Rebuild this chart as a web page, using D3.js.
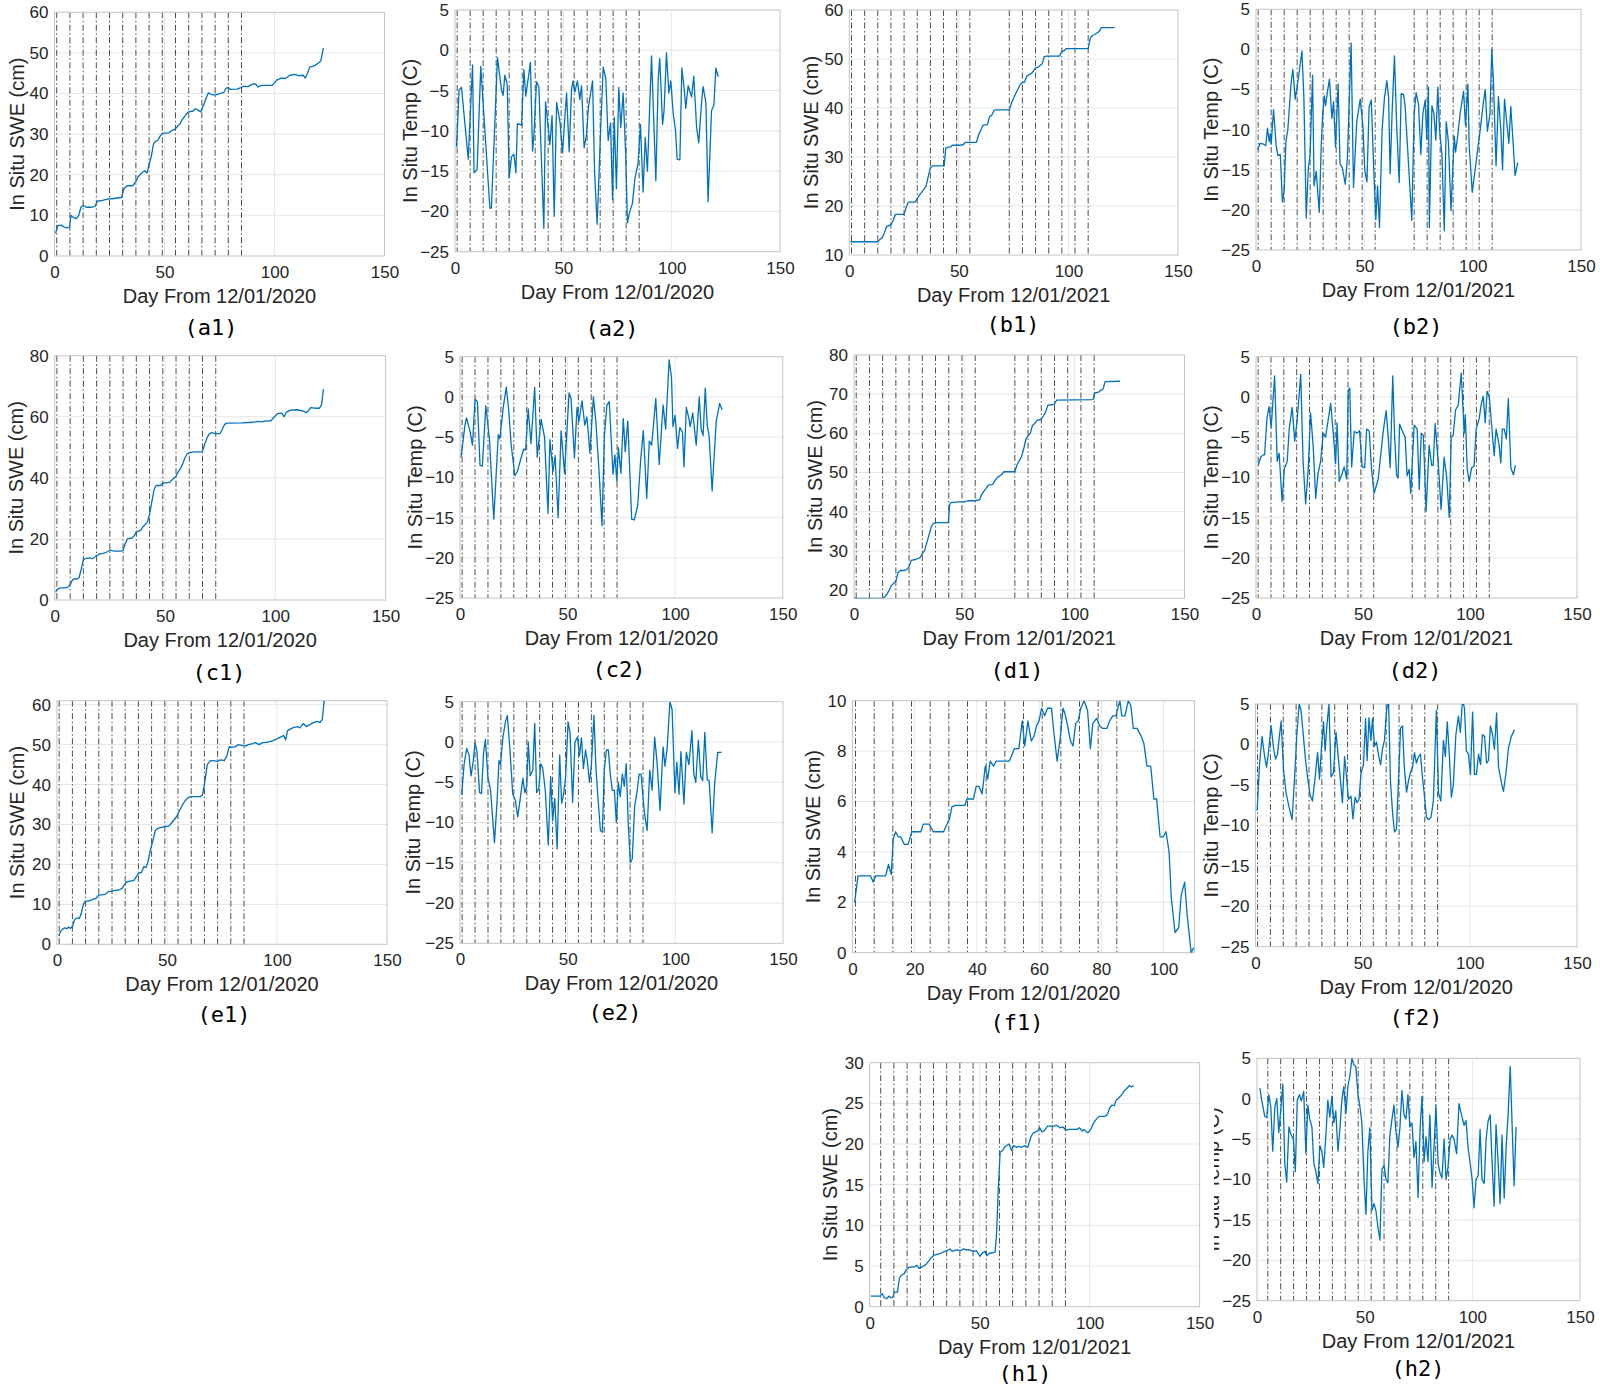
<!DOCTYPE html>
<html><head><meta charset="utf-8">
<script src="https://cdn.jsdelivr.net/npm/d3@7/dist/d3.min.js"></script>
<style>html,body{margin:0;padding:0;background:#fff}svg{display:block}</style>
</head><body>
<svg id="chart" width="1600" height="1386"></svg>
<script>
// ---------------- DATA ----------------
// Satellite pass days (vertical dash-dot lines)
const passes2020 = [1,7,13,19,25,31,37,43,49,55,61,67,73,79,85];
const passes2020c = [1,7,13,19,25,31,37,43,49,55,61,67,73];
const passes2021 = [1,7,13,19,25,31,37,43,49,55,73,79,85,91,97,103,109];
const passes2021h = [5,11,17,23,29,35,41,47,53,59,65,71,77,83,89];

// Tick labels
const dayTicks = [0,50,100,150];
const dayTicksF = [0,20,40,60,80,100];
const tempTicks = [-25,-20,-15,-10,-5,0,5];
const sweTicksA = [0,10,20,30,40,50,60];
const sweTicksB = [10,20,30,40,50,60];
const sweTicksC = [0,20,40,60,80];
const sweTicksD = [20,30,40,50,60,70,80];
const sweTicksF = [0,2,4,6,8,10];
const sweTicksH = [0,5,10,15,20,25,30];

// Series: [day, value]
const sweA1 = [[0.5,5.6],[1.5,7.5],[3,7.6],[4.5,7.1],[6,6.9],[6.8,7.2],[7.5,10],[8.5,9.5],[10,9.2],[11,10],[12,12],[13,12.5],[14.5,12],[17,12],[18.5,12.3],[19.5,13.5],[21,13.6],[24,14],[26,14.1],[30.5,14.4],[31.5,16.5],[33,17.3],[35.5,17.3],[37,18.3],[38,19.5],[40,20.6],[41,21],[42,20.4],[43,22.5],[44,24.5],[45,27.6],[46,28.3],[47,28.5],[48,29.5],[49,30.2],[52,30.3],[53,30.8],[55,31.3],[56,32],[57,32.5],[58,33.5],[60,35],[61,35.5],[63,35.7],[64,36.3],[65.5,35.8],[66.5,35.5],[68,37.5],[69,39],[70,40.2],[71,39.8],[73,39.6],[75,40],[77,40.3],[78,41.3],[79,41.5],[80,41],[83,41.1],[85,41.5],[86,41.8],[88,41.7],[89,42],[90,42.3],[91.5,42.4],[92.5,41.6],[94,42],[99,42],[101,43.3],[103,43.8],[105,43.7],[107,44.5],[109,44.7],[111,44.4],[113,44.5],[114,43.8],[115,45],[116,46.5],[118,46.8],[120,47.5],[121,48],[122.2,51.2]];
const tempA2 = [[0.7,-12],[1.9,-4.9],[3,-4.6],[6.1,-13.5],[8.1,-1.8],[8.8,-15.2],[10.2,-14.8],[11.9,-2],[13.8,-10],[16.1,-19.6],[16.8,-19.6],[19.6,-0.9],[21.5,-5],[22.2,-5.6],[23,-3.1],[24.1,-4.2],[25,-15.8],[26.1,-13.2],[27.2,-12.9],[28.1,-15.2],[28.8,-9.1],[30.7,-9.3],[31.8,-2.4],[32.7,-5.7],[34.8,-1.5],[35.8,-12.5],[36.5,-10.3],[37.6,-3.9],[38.7,-4.5],[41,-22.1],[41.8,-6.4],[43.8,-11.7],[44.8,-8.1],[45.8,-20.6],[46.9,-6.5],[48.5,-9],[49.6,-12.7],[51.5,-5.3],[52.7,-12.6],[53.8,-4.8],[54.5,-3.8],[55.3,-5.2],[56.5,-3.8],[57.6,-6.1],[58.4,-4.4],[59.6,-12.1],[60.7,-10.5],[61.6,-7],[63.5,-3.8],[64.4,-15],[65.6,-21.6],[67.2,-10],[68.4,-2.1],[69.6,-3.5],[70.7,-11.2],[71.8,-9],[72.7,-18.5],[73.5,-8.3],[74.5,-17.2],[75.6,-4.6],[76.5,-9.6],[77.6,-5.3],[78.8,-13],[79.6,-21.4],[80.7,-20],[81.9,-19],[83,-16],[84.5,-14],[85.6,-9.2],[86.8,-17.6],[87.8,-10.8],[88.8,-15],[90.7,-0.7],[92.7,-16.2],[93.8,-3.5],[94.5,-1],[95.8,-9.2],[96.5,-7.5],[97.6,-0.3],[98.7,-5.3],[99.6,-3.8],[100.7,-7.8],[101.8,-10],[102.5,-13.5],[103.8,-13.6],[104.7,-2.2],[105.8,-4.8],[106.5,-7.2],[107.6,-4.4],[109.2,-5.8],[110.2,-3.2],[111.5,-9.5],[112.5,-11.5],[113.8,-6.5],[114.5,-4.5],[115.8,-6.5],[116.8,-18.8],[118.4,-7.5],[119.5,-6.8],[120.4,-2.2],[121.5,-3.3]];
const sweB1 = [[0.5,12.7],[13,12.7],[14,13.2],[15,13.5],[16,14.5],[17,15.8],[18,16],[19,16.2],[20,17],[21,18.3],[25,18.3],[26,19.8],[27,20.8],[30,20.8],[31,21.5],[32,22.2],[33,22.8],[35,24],[36,26],[37,27.8],[38,28.2],[43.3,28.2],[44,31.8],[45,32],[46,32],[47,32.4],[50,32.4],[52,32.5],[53,33],[58,33],[59,34.5],[61,36.5],[63,36.6],[64,38.2],[65,38.5],[66,39.5],[67,39.6],[73,39.6],[74,41],[75,42],[76,43],[78,44.8],[79,45.2],[80,45.3],[81,46.5],[82,46.8],[83,47],[84,47.5],[85,48.2],[86,48.3],[88,49],[89,50.5],[90,50.6],[96,50.6],[97,51.5],[98,51.7],[99,52.1],[109,52.1],[110,54.3],[111,54.8],[112,55],[113,55.3],[114,55.6],[115,56.4],[121,56.4]];
const tempB2 = [[0.8,-12.5],[1.9,-11.7],[3.5,-11.8],[4.5,-12],[5.3,-9.8],[6.1,-11.5],[6.6,-10.5],[7,-11.8],[8.1,-7.5],[9.3,-12],[10.1,-13.2],[11.2,-13.1],[12.2,-19],[13,-17.5],[13.8,-11.5],[14.7,-10],[16.1,-4.5],[17,-2.5],[18.1,-6.2],[18.8,-5],[20.1,-2.5],[21.2,-0.2],[22.1,-6],[23.2,-21],[24.1,-15],[25,-13],[26.1,-3.2],[26.8,-17],[27.8,-15.2],[29.2,-20.3],[30.1,-12],[30.8,-8],[31.5,-5.8],[32.1,-7],[33,-5.2],[33.9,-3.7],[35,-8.6],[35.8,-6.5],[36.7,-12.2],[37.9,-4.3],[38.8,-14.3],[39.8,-14.7],[41.2,-16.8],[42.2,-13.5],[43.9,0.8],[45,-17.2],[46.5,-9],[48.1,-6.2],[49.3,-9.5],[50.2,-15],[51.2,-16.5],[52.2,-7.2],[53.2,-6.3],[54.2,-14],[55.3,-21.2],[56.1,-17],[57,-22.2],[58.2,-10],[59.3,-6],[60.4,-3.9],[61.2,-6],[61.9,-15.5],[62.8,-8],[63.9,-0.8],[65,-10],[66.1,-16.6],[67,-5.5],[68.1,-5.6],[68.8,-7],[69.9,-12],[71.9,-21.3],[73,-8],[73.9,-5.4],[75,-6.8],[76.1,-13.1],[77,-8],[78.1,-6.3],[78.8,-11.2],[79.6,-4.7],[80,-22.2],[81.2,-7],[82.1,-8],[83,-11.3],[83.9,-4.7],[84.7,-10],[85.8,-13],[86.9,-22.6],[87.8,-9],[88.8,-11.5],[90,-20.1],[91.5,-10.8],[92.1,-12.8],[93,-11],[94.2,-8],[95.8,-5.2],[96.7,-9.5],[97.8,-4.3],[98.4,-12],[99.8,-17.8],[101.6,-14],[103.5,-10],[105,-6.5],[105.8,-5],[106.8,-10.2],[108,-8],[108.8,0],[109.6,-4],[110.8,-14.5],[111.9,-5.9],[113,-10],[113.8,-15],[114.7,-6.2],[115.8,-9.3],[116.7,-11.7],[117.6,-7.1],[119.6,-15.7],[120.8,-14.1]];
const sweC1 = [[0.5,2.5],[1,3.5],[2,3.8],[3,4],[5,4],[6,4.2],[7,5],[8,6.5],[9,7],[10,6.8],[11,7.2],[12,10],[13,13.2],[14,13.6],[16,13.8],[17,13.5],[18,14],[19,14.5],[20,15],[22,15.3],[24,15.8],[25,16.3],[27,16],[30,16],[31,16.2],[32,18.5],[33,20],[35,20.3],[36,21],[37,22.3],[39,22.8],[40,24],[42,25.5],[43,28],[44,32],[45,36],[46,37.5],[48,37.5],[49,38.3],[52,38.5],[53,39.2],[55,40.5],[56,42],[57,43],[58,44.5],[59,46.5],[60,47.8],[61,48.2],[63,48.5],[66,48.5],[67,48.6],[68,51],[69,53],[70,54.3],[71,54.8],[73,54.5],[75,54.5],[76,56],[77,57.5],[78,57.9],[85,58],[90,58.2],[92,58.5],[94,58.3],[95,58.6],[98,58.7],[99,59.5],[100,60.3],[101,61],[103,61.2],[104,60],[105,61.5],[107,62.2],[110,62.3],[113,61.8],[114,61.3],[115,62],[116,63],[118,62.8],[120,62.8],[121,64],[121.8,69]];
const tempC2 = [[0.5,-7.5],[2.3,-3.5],[3,-2.6],[4.6,-4.2],[5.8,-6],[7,-0.3],[8.1,-0.6],[9.3,-8.5],[10.4,-8.6],[12,-1.1],[13.7,-5.3],[15.7,-15.2],[17.8,-4.7],[18.5,-5.2],[20.1,-1.3],[21.5,1.2],[22.6,-1.5],[23.8,-6],[25.5,-9.8],[26.6,-9.3],[28.5,-7.5],[29.6,-6.5],[30.5,-6.6],[31.7,-1.5],[33,-5.8],[34.7,1.2],[35.9,-7.5],[37.7,-2.8],[39.3,-5],[40.9,-14.5],[41.8,-5.3],[43.2,-9.3],[44.2,-7.3],[45.6,-15],[47,-4.2],[48.6,-9.5],[50.7,0.5],[51.6,-0.2],[53.2,-7.6],[54.4,-1.3],[55.3,-3],[56.7,-0.5],[58,-3.5],[59,-2.5],[60.4,-7],[62,0],[63.2,-3.2],[64.8,-10],[66,-16],[67.1,-5],[68.3,-1],[69.4,-0.6],[71.1,-9.6],[72,-7.2],[72.9,-10.5],[73.6,-6.3],[74.8,-9.5],[75.9,-2.7],[76.8,-6.8],[78,-3],[79.8,-15.2],[81,-15.3],[82.6,-13.5],[84,-7.8],[85.2,-4.2],[86.8,-12.6],[88,-5.5],[89.1,-6],[91,-0.2],[92.6,-8.4],[94.4,-1],[95.6,-4],[97.2,4.6],[98.3,2.5],[99,-3.7],[100,-2.3],[101.1,-6.4],[102.2,-3.8],[103.4,-4.4],[104.1,-8.7],[105.2,-1.3],[106.4,-2.7],[107,-3.7],[108.2,-2],[109.8,-6],[111.2,0],[112.1,-4],[113,-4.8],[114,1.1],[114.9,-3.5],[115.8,-4.8],[117.2,-11.7],[119.1,-3],[120.7,-0.8],[121.8,-1.6]];
const sweD1 = [[0,17.9],[13,17.9],[14,18.3],[15,19],[16,20],[17,21.2],[18,21.7],[19,22.3],[20,24.5],[21,25],[23,25],[24,25.3],[25,26],[26,27.6],[28,27.8],[30,28.3],[31,29.3],[32,30],[33,32],[34,34],[35,36],[36,37],[38,37.2],[42.8,37.2],[43.4,41.8],[44,42.3],[47,42.5],[50,42.5],[52,42.8],[55,42.8],[57,43],[58,44.5],[60,46],[61,46.8],[63,47],[64,48],[65,48.7],[67,49.5],[68,50.2],[73,50.2],[74,52],[76,54],[77,56],[78,58.5],[79,59.3],[80,60],[81,62],[82,62.5],[83,63.3],[85,63.6],[86,64.5],[87,65.5],[88,67.2],[90,67.3],[91,67.5],[92,68.5],[108.5,68.6],[109.3,70.3],[111,70.5],[112,71],[113,71.3],[114,73.2],[120.7,73.3]];
const tempD2 = [[1,-8.5],[2.2,-7.5],[3.3,-7.2],[4,-7.2],[5.2,-2.5],[6.1,-1.2],[7.1,-3.8],[8.7,2.6],[9.9,-8],[10.8,-7],[12.2,-13],[13.2,-9],[14.6,-8],[15.5,-4],[16.9,-1.3],[18.1,-5.5],[19.2,-3],[20.9,2.8],[22,-8],[23.2,-13.3],[24.4,-9],[25.5,-2],[26.7,-6],[27.9,-12.6],[29,-9.5],[30.2,-8],[31.4,-4.5],[32.5,-5],[34.9,-0.8],[36.1,-4.5],[37.2,-8.3],[37.9,-3.2],[38.9,-10.5],[40.3,-9.5],[41.2,-8.7],[42.4,-10.2],[43.1,0.8],[43.8,1.1],[44.7,-8.7],[45.9,-4.3],[47.3,-4.5],[48.4,-4.2],[49.6,-8.7],[50.8,-8.8],[51.7,-4],[52.9,-4.2],[54,-9],[55.2,-12],[57.1,-10.2],[59.4,-4.4],[60.8,-1.7],[61.8,-5],[62.7,-8.8],[63.9,2.6],[64.8,-5],[65.7,-9.7],[66.4,-10.1],[67.1,-3.4],[68.8,-4.5],[69.7,-5],[70.6,-9.8],[71.6,-9],[72.3,-12],[73.9,-3.5],[75.3,-4],[76.3,-11.5],[77.2,-4.5],[78.2,-4.8],[79.5,-14.2],[80.9,-6],[82.1,-8.5],[82.8,-8.5],[83.7,-3.3],[85.1,-8],[86.5,-14],[87.9,-7.5],[89.1,-10],[90.3,-15],[91.2,-5],[92.1,-4.8],[93.3,-1.6],[94.5,-1],[95.9,3],[97.3,-4.5],[97.8,-2.2],[98.7,-9],[99.6,-10.5],[100.8,-8.8],[101.9,-8.6],[102.9,-4],[104.3,-2.7],[105.2,-1],[106.2,0.1],[107.1,-3.2],[108,0.7],[109,0.1],[110.1,-3.5],[111.3,-7.3],[112.2,-4],[113.6,-6],[114.4,-8.2],[115.1,-4],[116,-4],[117,-5.2],[117.9,-0.2],[119.1,-8.8],[120.3,-9.7],[121.2,-8.5]];
const sweE1 = [[0.8,2],[1.7,3.3],[2.6,3.8],[3.5,4.1],[4.4,3.9],[5.3,4.3],[6.2,4],[7.1,4.6],[8,6.2],[9.1,6.6],[10.2,6.5],[10.9,7.5],[12,10],[12.9,10.8],[14.3,10.8],[15.2,11],[16.5,11.3],[17.7,11.5],[18.8,12.3],[20.4,12.4],[21.9,12.5],[23.3,13.2],[24.9,13.3],[26.4,13.5],[28.2,13.6],[29.6,14],[30.5,14.8],[31.6,15.6],[33.2,15.8],[35,16],[36.1,17],[37.2,17.8],[38.4,18],[39.5,19.5],[40.4,19.2],[41.3,20.5],[42.4,23.5],[43.6,26],[44.7,28.5],[45.8,29],[47.4,29.3],[49,29.5],[50.8,29.6],[51.9,30.3],[53,31],[54.4,32],[55.7,33.5],[57.1,35],[58.6,36.2],[59.8,36.8],[60.9,37],[63.1,37],[64.9,37],[66.1,37.3],[67,40],[68.3,45],[69.7,46],[71,46],[72.8,45.8],[74.4,46.2],[76,46],[77.1,47],[78.3,49.5],[79.6,49.3],[81.2,49.5],[82.3,50],[84.1,49.8],[85.7,49.6],[86.8,50],[88.6,50.2],[90.2,50.5],[91.8,50],[93.6,50.5],[95.8,50.6],[98.1,51],[100.3,51.5],[102.1,52],[103,52.3],[103.9,51.2],[104.8,53.5],[107.1,54.2],[109.3,54.5],[110.4,54.2],[112,55.3],[113.3,54.5],[114.9,55],[116.5,55.5],[118.3,55.8],[119.6,55.6],[120.6,56.3],[121.5,61.5]];
const tempE2 = [[0.8,-6.5],[1.9,-2.8],[3.1,-0.8],[4.2,-1.6],[5.1,-4.2],[6.1,-2.5],[7,-0.1],[7.9,-1.2],[9.1,-6.3],[10,-6.4],[10.9,-1.5],[11.8,0.3],[13,-4.5],[14.2,-6],[16,-12.5],[17.2,-7.5],[18.1,-2.3],[18.8,-2.8],[19.9,0.5],[21.1,2.5],[22,3.3],[23.2,-1],[24.5,-6.5],[25.7,-7.2],[26.8,-9.3],[28,-7],[29.2,-4.5],[30.1,-6.3],[31,-5.5],[31.7,0],[32.6,-4.2],[33.8,-3.5],[34.7,2.3],[35.6,-6.3],[36.6,-5.8],[37.5,-2.7],[38.4,-3.2],[39.6,-6],[41,-12.8],[42.1,-4.3],[43,-9.8],[44,-7],[45.1,-13.3],[46.3,-1.6],[47.2,-7.6],[48.1,-6.5],[49,-4.5],[50.2,2.5],[51.1,1.2],[52.3,-7.5],[53.4,0],[54.6,0.6],[55.5,-1.7],[56.4,0.5],[57.3,-3.3],[58.3,-1],[59.2,-2.5],[60.1,-5],[61,-3],[62.2,3.3],[63.1,-3],[64,-6.7],[65.2,-11],[66.1,-11.2],[67,-3.5],[68,-1],[68.9,-1],[69.8,-4],[70.7,-6],[71.7,-6],[72.6,-10],[73.5,-5],[74.4,-6.8],[75.4,-4],[76.3,-5.5],[77.2,-2.7],[78.1,-10],[79.1,-15],[80,-14.5],[81.1,-8],[82.3,-6],[83.2,-4],[84.1,-4],[85.5,-8.5],[86.9,-11],[88.1,-3.5],[89.2,-6],[90.4,0.6],[91.5,-2.5],[92.9,-8.5],[94.3,-0.6],[95.2,-3],[96.2,-0.8],[97.5,5],[98.5,4],[99.8,-6.3],[100.7,-2.5],[101.7,-6.5],[102.6,-1.2],[104,-7.7],[105.1,-1.3],[106.3,-2.8],[107.7,1.4],[108.6,-4],[109.5,-5],[110.7,0.2],[111.8,-4.3],[112.7,-4.8],[113.7,1.2],[114.8,-4.7],[115.7,-4.8],[117.1,-11.3],[118.3,-5],[119.7,-1.3],[121.5,-1.3]];
const sweF1 = [[0.7,2],[1.8,3.05],[2.6,3.05],[4.2,3.05],[5.8,3.05],[6.7,2.8],[7.5,3.05],[9.1,3.05],[10.7,3.05],[11.6,3.5],[12.5,3.1],[13.1,4.5],[13.9,4.8],[14.7,4.6],[15.5,4.6],[16.7,4.3],[17.9,4.3],[19.1,4.8],[20.4,4.8],[22,4.8],[22.8,5.1],[23.9,5.1],[24.7,5.1],[26,4.8],[27.2,4.8],[28.5,4.8],[29.3,4.8],[30.4,5.1],[31.2,5.3],[32,5.8],[33.3,5.85],[34.9,5.85],[36.2,5.85],[36.8,6.1],[38.1,6.1],[38.9,6.1],[39.8,6.6],[40.7,6.6],[41.7,6.3],[42.7,7.4],[43.5,6.9],[44.3,7.6],[45.4,7.4],[46.2,7.6],[47.9,7.6],[49.5,7.6],[50.4,7.6],[51.1,7.8],[52.1,8.1],[53.5,8.1],[54.6,9.2],[55.4,8.2],[56.4,9.2],[57.5,8.4],[58.4,8.6],[59.2,9],[60,9.2],[60.8,9.7],[61.8,9.4],[62.7,9.7],[64,9.7],[64.8,8.7],[65.8,7.6],[66.8,8.5],[67.7,9.7],[68.3,9.5],[69.2,9],[70.1,8.4],[70.9,8.2],[71.8,9.1],[72.6,9.2],[73.4,9.7],[74.5,10],[75.6,9.6],[76.5,8.1],[77.3,9.1],[78.5,9.3],[79.5,9],[80.5,8.9],[81.8,8.9],[82.7,9.2],[83.7,9.4],[84.7,9.4],[85.3,9.7],[86,10],[86.6,9.4],[87.6,9.4],[88.7,10],[89.5,9.8],[90.3,8.9],[91.5,8.9],[92.8,8.6],[93.7,8.3],[94.7,7.4],[95.9,7.4],[96.9,6.1],[97.8,6.1],[98.9,4.6],[99.9,4.6],[100.8,4.8],[101.8,4],[102.5,2.2],[103.7,0.8],[104.9,1],[105.7,2.3],[106.8,2.8],[107.6,1.5],[108.9,0],[109.7,0.2]];
const tempF2 = [[0.8,-8.2],[1.9,-2.5],[3.1,1],[4.3,-1.5],[5.2,-2.8],[6.1,-1],[7.3,2.3],[8.5,-0.5],[9.4,-1.8],[10.3,-1.2],[12,2.9],[13.1,-3],[14.3,-6],[15.5,-7.5],[17.1,-9.3],[18.3,-4],[19.4,1.5],[20.4,5],[21.3,4.2],[22.4,1],[23.4,-2],[24.3,-4],[25.5,-6.2],[26.6,-7],[27.8,-4.2],[29,-1],[29.9,-4.3],[30.8,-0.5],[31.8,2.8],[32.5,-0.8],[33.4,2.5],[34.3,5],[35.3,-4],[36.4,-3.5],[37.6,1.5],[38.8,-2],[39.7,-4.5],[40.6,-7.2],[41.6,-1.5],[42.5,-4],[43.4,-6.8],[44.6,-6.4],[45.5,-9.2],[46.5,-6.5],[47.4,-7.2],[48.3,-6.8],[49.3,-3.5],[50.4,-2.5],[51.4,3.2],[52.1,-2],[53,3.3],[53.9,0.5],[54.6,3.2],[55.6,-0.2],[56.5,0.3],[57.4,-1.3],[58.4,-2.5],[59.3,-0.5],[60.2,0.5],[61.2,4.2],[62.1,5.5],[63,-4.6],[64,-8.5],[64.9,-10.8],[65.8,-10.5],[66.8,-4],[67.7,2],[68.6,2.3],[69.5,-3],[70.5,-5.9],[71.4,-4.5],[72.3,-3.5],[73.3,-2.8],[74.2,-1],[75.1,-2.3],[76.1,-1.5],[77,-1.2],[77.9,-4],[78.9,-6.5],[79.8,-9],[80.7,-9.3],[81.9,-9],[83,-7],[84.4,4.2],[85.4,-6],[86.5,-7],[87.7,0.5],[88.6,-1.5],[89.5,2.8],[90.5,-1.5],[91.4,-6.5],[92.3,-5],[93.5,1.2],[94.7,3.5],[95.6,1.5],[96.6,5.5],[97.5,4.5],[98.4,-0.8],[99.4,-1.2],[100.3,-3.7],[101.3,4],[102.2,-3.7],[103.1,-3.7],[104.1,-1.2],[105,-2.5],[105.9,1.2],[106.9,1],[107.8,-2.3],[108.7,-2],[109.6,2.3],[110.6,1.2],[111.5,-0.6],[112.5,3.9],[113.4,-2.8],[114.8,-4.8],[115.7,-5.8],[116.9,-3.5],[118,-0.5],[119.4,1],[120.8,1.8]];
const sweH1 = [[0.5,1.3],[2.7,1.3],[4.6,1.3],[5.7,1.6],[6.6,1.1],[7.8,1],[8.7,1.3],[9.6,1.1],[10.5,1.2],[11.4,1.8],[12.6,1.8],[13.5,3.5],[14.6,3.9],[15.8,4.1],[16.5,4.5],[17.6,4.8],[19.2,4.9],[20.6,4.9],[21.5,5.1],[22.4,4.7],[23.3,4.8],[24.5,5],[25.6,5.2],[26.8,5.6],[27.9,6],[29.1,6.3],[30.2,6.4],[31.4,6.5],[32.5,6.6],[34.1,6.8],[35.2,6.9],[36.6,7.1],[37.5,6.8],[38.4,6.9],[39.8,7],[41.2,6.9],[42.8,7.1],[43.9,7],[45.1,7],[46.2,6.9],[47.4,6.8],[48.5,6.9],[50.1,6.2],[51.3,6.6],[52.4,6.8],[53.3,6.3],[54.5,6.6],[55.4,6.6],[57,6.7],[57.7,9],[58.4,14],[59.3,19],[60.4,19.2],[61.6,19.7],[63.4,20],[64.5,19.2],[65.4,19.8],[66.8,19.6],[67.9,19.7],[69.1,19.6],[70.5,19.8],[71.9,19.6],[73.2,20.8],[74.1,21.3],[75.3,21.5],[76.4,21.6],[77.3,22],[78.3,21.5],[79.6,21.7],[80.8,22.2],[82.2,22.2],[83.8,22.2],[85.1,22.3],[86.5,22],[87.9,22.1],[89.2,21.7],[90.8,21.8],[92.4,21.8],[94.3,21.8],[95.4,22],[96.6,21.6],[97.5,21.8],[98.4,21.5],[99.3,21.4],[100.5,21.8],[101.6,22.5],[102.9,23],[104.3,23.4],[105.7,23.4],[106.9,23.4],[108,23.6],[109.2,24.5],[110.3,24.8],[111.2,24.7],[112.1,25.4],[113,25.6],[114.4,26],[115.6,26.5],[116.8,26.8],[118.1,27.2],[119,27],[120,27.2]];
const tempH2 = [[1.3,1.3],[2.4,-0.5],[3.6,-2.2],[4.5,-2.3],[5.5,0.5],[6.4,-1],[7.3,-6.5],[8.3,-1],[9.2,0],[10.1,-4.2],[11,-1.5],[12,1.8],[12.9,-8],[13.8,-10.3],[14.8,-3.5],[15.9,-4.5],[16.9,-5],[17.8,-9],[18.7,-0.2],[19.7,0.5],[20.6,-0.3],[21.7,0.9],[22.7,-6.8],[23.6,-0.8],[24.5,-2.5],[25.5,-3.5],[26.4,-8],[27.3,-9],[28.3,-10.5],[29.2,-5.8],[30.1,-6.5],[31,-8.5],[32,-4.5],[32.9,-0.2],[33.8,-2.3],[34.8,0.3],[35.7,-3],[36.6,-1.5],[37.6,-6.5],[38.5,-3.8],[39.4,-0.2],[40.3,1.5],[41.3,-1.8],[42.2,1.5],[43.1,2.8],[44.1,5],[45,4.2],[45.9,4],[46.9,0.5],[47.8,-1],[48.7,-3],[49.7,-10],[50.6,-14.3],[51.5,-6.5],[52.4,-3.6],[53.4,-13.8],[54.3,-13],[55.2,-13.8],[56.2,-16],[57.1,-17.5],[58,-8.8],[59,-8.2],[59.9,-10],[60.8,-10.4],[61.7,-4.5],[62.7,-2.5],[63.6,-0.8],[64.5,-4],[65.5,-6],[66.4,-3.5],[67.3,1],[68.3,-2],[69.2,-2.5],[70.1,0.5],[71,-3.5],[72,-3],[72.9,-7.3],[73.8,-5.3],[74.8,-12.2],[75.7,-4],[76.6,0.3],[77.6,-7.8],[78.5,-4.7],[79.4,-7.8],[80.3,-2],[81.3,-11],[82.2,-6],[83.1,-0.8],[84.1,-8],[85,-9.2],[85.9,-9.8],[86.9,-5],[87.8,-10],[88.7,-8.5],[89.7,-5],[90.6,-4.5],[91.5,-5],[92.7,-6.8],[93.8,-0.6],[95,-2],[96.2,-3.3],[97.1,-2.7],[98,-6],[99,-8],[99.9,-10],[100.8,-13.5],[101.7,-10],[102.7,-9.5],[103.6,-3.8],[104.5,-10],[105.5,-10.5],[106.4,-5],[107.3,-2.8],[108.3,-2],[109.2,-8],[110.1,-13.3],[111,-3.2],[112,-8],[112.9,-13],[113.8,-4.5],[114.8,-12.3],[115.7,-6],[116.6,-2],[117.6,4],[118.5,-3.5],[119.4,-10.8],[120.3,-3.5]];

const labelSWE = "In Situ SWE (cm)";
const labelTemp = "In Situ Temp (C)";
const xlab2020 = "Day From 12/01/2020";
const xlab2021 = "Day From 12/01/2021";

// ---------------- LAYOUT ----------------
const panels = [
 {id:"a1", data:sweA1, passes:passes2020, xdom:[0,150], xt:dayTicks, ydom:[0,60], yt:sweTicksA, xl:xlab2020, yl:labelSWE, box:[54.5,384.5,12.3,256], lab:[211,328], yoff:31},
 {id:"a2", data:tempA2, passes:passes2020, xdom:[0,150], xt:dayTicks, ydom:[-25,5], yt:tempTicks, xl:xlab2020, yl:labelTemp, box:[455,780,10,251.7], lab:[612,329], yoff:38},
 {id:"b1", data:sweB1, passes:passes2021, xdom:[0,150], xt:dayTicks, ydom:[10,60], yt:sweTicksB, xl:xlab2021, yl:labelSWE, box:[849.3,1178,10,255], lab:[1013,325], yoff:31},
 {id:"b2", data:tempB2, passes:passes2021, xdom:[0,150], xt:dayTicks, ydom:[-25,5], yt:tempTicks, xl:xlab2021, yl:labelTemp, box:[1256,1581,9.3,250], lab:[1416,327], yoff:38},
 {id:"c1", data:sweC1, passes:passes2020c, xdom:[0,150], xt:dayTicks, ydom:[0,80], yt:sweTicksC, xl:xlab2020, yl:labelSWE, box:[54.7,385.6,355.7,600], lab:[219,673], yoff:32},
 {id:"c2", data:tempC2, passes:passes2020c, xdom:[0,150], xt:dayTicks, ydom:[-25,5], yt:tempTicks, xl:xlab2020, yl:labelTemp, box:[460,782.7,356.7,598], lab:[619,670], yoff:38},
 {id:"d1", data:sweD1, passes:passes2021, xdom:[0,150], xt:dayTicks, ydom:[17.9,80], yt:sweTicksD, xl:xlab2021, yl:labelSWE, box:[854,1184.5,355,598.3], lab:[1017,671], yoff:32},
 {id:"d2", data:tempD2, passes:passes2021, xdom:[0,150], xt:dayTicks, ydom:[-25,5], yt:tempTicks, xl:xlab2021, yl:labelTemp, box:[1256,1577,356.7,598], lab:[1415,671], yoff:38},
 {id:"e1", data:sweE1, passes:passes2020, xdom:[0,150], xt:dayTicks, ydom:[0,61], yt:sweTicksA, xl:xlab2020, yl:labelSWE, box:[57,387,700.7,944.3], lab:[224,1015], yoff:33},
 {id:"e2", data:tempE2, passes:passes2020, xdom:[0,150], xt:dayTicks, ydom:[-25,5], yt:tempTicks, xl:xlab2020, yl:labelTemp, box:[460,783,701.7,943.3], lab:[615,1013], yoff:40},
 {id:"f1", data:sweF1, passes:passes2020, xdom:[0,110], xt:dayTicksF, ydom:[0,10], yt:sweTicksF, xl:xlab2020, yl:labelSWE, box:[852.4,1194.6,700.7,952.7], lab:[1017,1023], yoff:32},
 {id:"f2", data:tempF2, passes:passes2020, xdom:[0,150], xt:dayTicks, ydom:[-25,5], yt:tempTicks, xl:xlab2020, yl:labelTemp, box:[1255.4,1577,704,946.7], lab:[1416,1018], yoff:37},
 {id:"h1", data:sweH1, passes:passes2021h, xdom:[0,150], xt:dayTicks, ydom:[0,30], yt:sweTicksH, xl:xlab2021, yl:labelSWE, box:[869.7,1199.6,1062.7,1306.7], lab:[1025,1374], yoff:33},
 {id:"h2", data:tempH2, passes:passes2021h, xdom:[0,150], xt:dayTicks, ydom:[-25,5], yt:tempTicks, xl:xlab2021, yl:labelTemp, box:[1257,1580,1058.3,1300.7], lab:[1418,1369], yoff:38, ylClip:1214}
];

const svg = d3.select("#chart");
svg.append("rect").attr("width",1600).attr("height",1386).attr("fill","#fff");
const defs = svg.append("defs");
const SANS = "'Liberation Sans', Arial, Helvetica, sans-serif";
const MONO = "'DejaVu Sans Mono', 'Liberation Mono', monospace";

panels.forEach(p => {
  const [L,R,T,B] = p.box;
  const x = d3.scaleLinear().domain(p.xdom).range([L,R]);
  const y = d3.scaleLinear().domain(p.ydom).range([B,T]);
  const g = svg.append("g").attr("id","panel-"+p.id);

  const clipId = "clip-"+p.id;
  defs.append("clipPath").attr("id",clipId).append("rect")
    .attr("x",L).attr("y",T).attr("width",R-L).attr("height",B-T);

  // grid
  g.append("g").selectAll("line").data(p.xt.filter(v=>v>p.xdom[0] && v<p.xdom[1])).join("line")
    .attr("x1",d=>x(d)).attr("x2",d=>x(d)).attr("y1",T).attr("y2",B)
    .attr("stroke","#e6e6e6").attr("stroke-width",1);
  g.append("g").selectAll("line").data(p.yt.filter(v=>v>p.ydom[0] && v<p.ydom[1])).join("line")
    .attr("x1",L).attr("x2",R).attr("y1",d=>y(d)).attr("y2",d=>y(d))
    .attr("stroke","#e6e6e6").attr("stroke-width",1);

  // pass lines
  g.append("g").selectAll("line").data(p.passes).join("line")
    .attr("x1",d=>x(d)).attr("x2",d=>x(d)).attr("y1",T).attr("y2",B)
    .attr("stroke","#4d4d4d").attr("stroke-width",1)
    .attr("stroke-dasharray","6,2.5,1.5,2.5");

  // frame
  g.append("rect").attr("x",L).attr("y",T).attr("width",R-L).attr("height",B-T)
    .attr("fill","none").attr("stroke","#c4c4c4").attr("stroke-width",1);

  // series
  const line = d3.line().x(d=>x(d[0])).y(d=>y(d[1]));
  g.append("path").datum(p.data).attr("d",line)
    .attr("clip-path","url(#"+clipId+")")
    .attr("fill","none").attr("stroke","#0072BD").attr("stroke-width",1.3)
    .attr("stroke-linejoin","round");

  // axes
  const ax = g.append("g").attr("transform",`translate(0,${B})`)
    .call(d3.axisBottom(x).tickValues(p.xt).tickSize(0).tickPadding(10).tickFormat(d3.format("d")));
  const ay = g.append("g").attr("transform",`translate(${L},0)`)
    .call(d3.axisLeft(y).tickValues(p.yt).tickSize(0).tickPadding(6).tickFormat(d3.format("d")));
  [ax,ay].forEach(a => {
    a.select(".domain").remove();
    a.attr("font-family",SANS).attr("font-size",17);
    a.selectAll("text").attr("fill","#262626");
  });

  // x label
  g.append("text").attr("x",(L+R)/2).attr("y",B+47)
    .attr("text-anchor","middle").attr("font-family",SANS).attr("font-size",20)
    .attr("fill","#262626").text(p.xl);

  // y label
  const yl = g.append("text")
    .attr("transform",`translate(${L-p.yoff},${(T+B)/2}) rotate(-90)`)
    .attr("text-anchor","middle").attr("font-family",SANS).attr("font-size",20)
    .attr("fill","#262626").text(p.yl);
  if (p.ylClip) {
    const cid = "clipyl-"+p.id;
    defs.append("clipPath").attr("id",cid).append("rect")
      .attr("x",p.ylClip).attr("y",T).attr("width",L-p.ylClip-2).attr("height",B-T);
    const wrap = g.append("g").attr("clip-path","url(#"+cid+")");
    wrap.node().appendChild(yl.node());
  }

  // panel label
  g.append("text").attr("x",p.lab[0]).attr("y",p.lab[1]+7)
    .attr("text-anchor","middle").attr("font-family",MONO).attr("font-size",22)
    .attr("fill","#000").text(p.id ? "("+p.id+")" : "");
});
</script>
</body></html>
